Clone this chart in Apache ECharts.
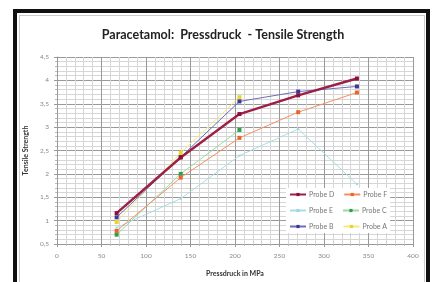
<!DOCTYPE html>
<html>
<head>
<meta charset="utf-8">
<script src="https://cdn.jsdelivr.net/npm/echarts@6/dist/echarts.min.js"></script>
<style>
  html, body { margin: 0; padding: 0; background: #fff; }
  #frame {
    position: absolute; left: 13px; top: 9px; width: 409px; height: 290px;
    border: 4px solid #111; border-bottom: none; background: #fff;
  }
  #inner {
    position: absolute; left: 19px; top: 15px; width: 404px; height: 290px;
    border: 1px solid #ccc; border-bottom: none;
  }
  #chart { position: absolute; left: 0; top: 0; width: 433px; height: 282px; }
</style>
</head>
<body>
<div id="frame"></div>
<div id="inner"></div>
<div id="chart"></div>
<script>
// Pressdruck (MPa) der Messpunkte
const pressure = [67, 139, 205, 271, 337]

// Tensile Strength je Probe
const probeD = [1.16, 2.35, 3.28, 3.68, 4.04]
const probeF = [0.78, 1.92, 2.77, 3.32, 3.74]
const probeE = [0.85, 1.47, 2.39, 2.96, 1.78]
const probeC = [0.70, 2.00, 2.94]
const probeB = [1.07, 2.36, 3.55, 3.76, 3.87]
const probeA = [0.97, 2.45, 3.64]

const names = ['Probe D', 'Probe F', 'Probe E', 'Probe C', 'Probe B', 'Probe A']
const values = [probeD, probeF, probeE, probeC, probeB, probeA]
const lineColors = ['#9e1f45', '#f39060', '#a8dde6', '#9ed8a4', '#6d6db8', '#f2ea80']
const markColors = ['#8e1038', '#e9652c', '#9fd6e0', '#2f9e4f', '#3a3a96', '#ead52a']

const chart = echarts.init(document.getElementById('chart'))

const series = names.map((name, i) => ({
  name: name,
  type: 'line',
  data: values[i].map((v, j) => [pressure[j], v]),
  symbol: 'rect',
  symbolSize: i === 2 ? 2 : 4,
  showSymbol: true,
  lineStyle: { color: lineColors[i], width: i === 0 ? 2.4 : 1 },
  itemStyle: { color: markColors[i] },
  z: 10 - i
}))

chart.setOption({
  animation: false,
  textStyle: { fontFamily: 'Lato' },
  title: {
    text: 'Paracetamol:  Pressdruck  - Tensile Strength',
    left: 218, top: 23, textAlign: 'center',
    textStyle: { fontFamily: 'Lato', fontWeight: 'bold', fontSize: 12.5, color: '#222' }
  },
  legend: {
    data: names,
    left: 286, top: 188, width: 108,
    itemWidth: 16, itemHeight: 4, itemGap: 9,
    padding: [3, 3, 3, 3],
    backgroundColor: '#fff',
    textStyle: { fontSize: 7, color: '#777', padding: [0, 0, 0, -2] }
  },
  grid: { left: 57, right: 20, top: 57, bottom: 36 },
  xAxis: {
    type: 'value', min: 0, max: 400, interval: 50,
    name: 'Pressdruck in MPa', nameLocation: 'middle', nameGap: 26,
    nameTextStyle: { fontSize: 7, fontWeight: 'bold', color: '#333' },
    axisLine: { show: true, lineStyle: { color: '#999' } },
    axisTick: { show: true, length: 3, lineStyle: { color: '#999' } },
    axisLabel: { fontSize: 6.5, color: '#888', margin: 8 },
    splitLine: { lineStyle: { color: '#999', width: 1 } },
    minorTick: { show: true, splitNumber: 5, length: 2, lineStyle: { color: '#bbb' } },
    minorSplitLine: { show: true, lineStyle: { color: '#d6d6d6' } }
  },
  yAxis: {
    type: 'value', min: 0.5, max: 4.5, interval: 0.5,
    name: 'Tensile Strength', nameLocation: 'middle', nameGap: 21,
    nameTextStyle: { fontSize: 7, fontWeight: 'bold', color: '#333' },
    axisLine: { show: true, lineStyle: { color: '#999' } },
    axisTick: { show: true, length: 3, lineStyle: { color: '#999' } },
    axisLabel: {
      fontSize: 6.5, color: '#888', margin: 8,
      formatter: v => String(v).replace('.', ',')
    },
    splitLine: { lineStyle: { color: '#999', width: 1 } },
    minorTick: { show: true, splitNumber: 5, length: 2, lineStyle: { color: '#bbb' } },
    minorSplitLine: { show: true, lineStyle: { color: '#d6d6d6' } }
  },
  series: series
})
</script>
</body>
</html>
